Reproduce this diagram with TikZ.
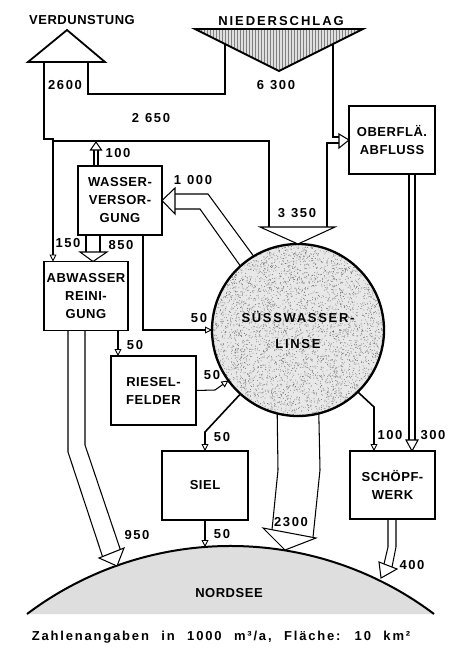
\documentclass[tikz,border=0pt]{standalone}
\usepackage{fontspec}
\setmainfont{Liberation Sans}
\newfontfamily\lblfont[LetterSpace=4]{Liberation Sans}
\newfontfamily\numfont[LetterSpace=12]{Liberation Sans}
\newfontfamily\lensfont[LetterSpace=13]{Liberation Sans}
\newfontfamily\widefont[LetterSpace=15]{Liberation Sans}
\newfontfamily\capfont[LetterSpace=14]{Liberation Sans}
\usetikzlibrary{arrows.meta,patterns,calc}
\begin{document}
\begin{tikzpicture}[x=1pt,y=-1pt,
  lbl/.style={font=\lblfont\bfseries\fontsize{13}{18}\selectfont, inner sep=0pt, align=center},
  num/.style={font=\numfont\bfseries\fontsize{13}{14}\selectfont, inner sep=0pt},
  box/.style={draw, line width=1.7pt, minimum width=84pt, minimum height=69pt, inner sep=0pt, outer sep=0pt, lbl},
  wall/.style={line width=1.05pt},
  tri/.style={line width=1.05pt, fill=white, line join=miter},
  thin arrow/.style={line width=1.05pt, -{Triangle[open,length=7pt,width=7pt,line width=0.9pt]}},
  thick arrow/.style={line width=1.6pt, -{Triangle[open,length=7pt,width=7pt,line width=0.9pt]}},
]
\fill[white] (0,0) rectangle (457,650);
\useasboundingbox (0,0) rectangle (457,650);

% Nordsee
\fill[gray!26] (27,614) arc[start angle=-126.96, end angle=-53.04, radius=338.5] -- cycle;
\draw[line width=2pt] (27,614) arc[start angle=-126.96, end angle=-53.04, radius=338.5];
\node[lbl] (nordsee) at (229,593) {NORDSEE};

% top triangles
\coordinate (vL) at (28,62); \coordinate (vR) at (105,62); \coordinate (vT) at (67,30);
\draw[line width=1.8pt, line join=miter] (vL) -- (vT) -- (vR) -- cycle;
\node[lbl] (verd) at (82,20) {VERDUNSTUNG};
\coordinate (nL) at (195,29); \coordinate (nR) at (363,29); \coordinate (nB) at (279,71);
\fill[gray!25] (nL) -- (nR) -- (nB) -- cycle;
\draw[line width=1.8pt, line join=miter, pattern=vertical lines, pattern color=gray] (nL) -- (nR) -- (nB) -- cycle;
\node[font=\widefont\bfseries\fontsize{13}{14}\selectfont, inner sep=0pt] (nied) at (281,21) {NIEDERSCHLAG};

% lens stipple
\coordinate (lc) at (298,330);
\fill[gray!18] (lc) circle[radius=86];
\begin{scope}
  \clip (lc) circle[radius=86];
  \pgfmathsetseed{7}
  \foreach \i in {1,...,5000}{
    \fill[black!55] ($(lc)+({172*rnd-86},{172*rnd-86})$) circle[radius=0.45];
  }
\end{scope}

% boxes
\node[box] (wv) at (120,200.5) {WASSER-\\VERSOR-\\GUNG};
\node[box] (aw) at (86,296) {ABWASSER\\REINI-\\GUNG};
\node[box, minimum width=85pt] (rf) at (153.5,390.5) {RIESEL-\\FELDER};
\node[box, minimum width=86pt, minimum height=68pt] (ob) at (392,140) {OBERFLÄ.\\ABFLUSS};
\node[box, minimum width=86pt] (siel) at (205,485.5) {SIEL};
\node[box, minimum width=85pt, minimum height=68pt] (sw) at (392.5,485) {SCHÖPF-\\WERK};
\node[circle, draw, line width=2.3pt, minimum size=172pt, inner sep=0pt, outer sep=0pt,
      lbl, font=\lensfont\bfseries\fontsize{13}{26}\selectfont] (lens) at (lc) {SÜSSWASSER-\\LINSE};

% coordinates
\coordinate (aw150) at ($(aw.north west)+(9,0)$);
\coordinate (ns50) at (205,547);

% upper channels
\draw[thin arrow] (44,62) |- (53,139) -- (aw150);
\draw[wall] (88,62) |- (225,94) -- (225,44);
\draw[wall] (333,44) |- (339,137);
\draw[wall] (53,141) -| (269,227);
\draw[wall] (327,227) |- (339,143);
\draw[tri] (339,134) -- (ob.west) -- (339,148) -- cycle;
\draw[tri] (260,227) -- (335,227) -- (lens.north) -- cycle;

% 100 from WV
\draw[wall] ($(wv.north)+(-26,0)$) -- (94,150) ($(wv.north)+(-22,0)$) -- (98,150);
\draw[tri] (90.5,150) -- (101.5,150) -- (96,142) -- cycle;

% 1000 lens -> WV
\draw[wall] (175,194) -- (208,194) -- (lens.121);
\draw[wall] (175,209) -- (200,209) -- (lens.132);
\draw[tri] (175,188) -- (175,214) -- (wv.east) -- cycle;

% 50 WV -> lens
\draw[thin arrow] ($(wv.south)+(23,0)$) |- (lens.west);

% 850 WV -> AW
\draw[wall] ($(wv.south)+(-34,0)$) -- (86,252) ($(wv.south)+(-20,0)$) -- (100,252);
\draw[tri] (80,252) -- (107,252) -- ($(aw.north)+(7,0)$) -- cycle;

% 50 AW -> RF
\draw[thin arrow] ($(aw.south)+(32,0)$) -- ($(rf.north west)+(7,0)$);

% 950 AW -> Nordsee
\draw[wall] ($(aw.south)+(-18,0)$) -- (68,452) -- (102.5,556.5);
\draw[wall] ($(aw.south)+(-1,0)$) -- (85,445) -- (120.3,549.5);
\draw[tri] (99,558) -- (124,548) -- (117,566) -- cycle;

% 50 RF -> lens
\draw[thin arrow] (rf.east) -- (215,390) -- (lens.216);

% 50 lens -> Siel, Siel -> Nordsee
\draw[thick arrow] (lens.228) -- (205,432) -- (siel.north);
\draw[thin arrow] (siel.south) -- (ns50);

% 2300 lens -> Nordsee
\draw[wall] (lens.256.6) -- (278,470) -- (272,529.7);
\draw[wall] (lens.284.8) -- (320,470) -- (313,537.4);
\draw[tri] (263,528) -- (316,538) -- (285,550) -- cycle;

% 100 lens -> Schoepfwerk
\draw[thick arrow] (lens.314) -- (374,407) -- ($(sw.north west)+(24,0)$);

% 300 Oberfl -> Schoepfwerk
\draw[wall] ($(ob.south)+(17,0)$) -- (409,440) ($(ob.south)+(23,0)$) -- (415,440);
\draw[tri] (406,440) -- (418,440) -- ($(sw.north)+(19.5,0)$) -- cycle;

% 400 Schoepfwerk -> Nordsee
\draw[wall] ($(sw.south)+(-4.5,0)$) -- (388,547) -- (384,564);
\draw[wall] ($(sw.south)+(3.5,0)$) -- (396,547) -- (392,567);
\draw[tri] (379,562) -- (397,569) -- (381,578) -- cycle;

% numbers
\node[num] (l2600) at (65,85) {2600};
\node[num] (l6300) at (276,85) {6\hspace{6pt}300};
\node[num] (l2650) at (151,118) {2\hspace{6pt}650};
\node[num] (l100a) at (118,153) {100};
\node[num] (l1000) at (193,180) {1\hspace{6pt}000};
\node[num] (l150) at (68,243) {150};
\node[num] (l850) at (121,245) {850};
\node[num] (l3350) at (297,213) {3\hspace{6pt}350};
\node[num] (l50a) at (199,318) {50};
\node[num] (l50b) at (135,345) {50};
\node[num] (l50c) at (212,375) {50};
\node[num] (l50d) at (222,437) {50};
\node[num] (l50e) at (222,534) {50};
\node[num] (l950) at (137,535) {950};
\node[num] (l2300) at (291,522) {2300};
\node[num] (l100b) at (390,435) {100};
\node[num] (l300) at (433,435) {300};
\node[num] (l400) at (412,565) {400};

% caption
\node[font=\capfont\bfseries\fontsize{13}{14}\selectfont, inner sep=0pt] (cap) at (221,637)
  {Zahlenangaben\hspace{7pt} in\hspace{7pt} 1000\hspace{7pt} m³/a,\hspace{7pt} Fläche:\hspace{7pt} 10\hspace{7pt} km²};
\end{tikzpicture}
\end{document}
